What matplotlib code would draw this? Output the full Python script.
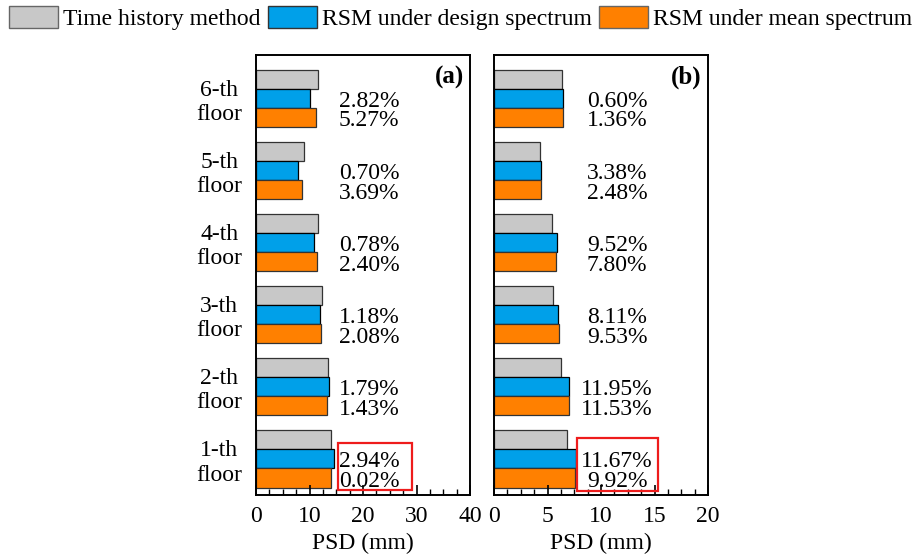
import matplotlib
matplotlib.use('Agg')
import matplotlib.pyplot as plt
from matplotlib.patches import Rectangle, Patch
from matplotlib.ticker import MultipleLocator

plt.rcParams['font.family'] = ['Liberation Serif', 'DejaVu Serif']
plt.rcParams['font.size'] = 17

# Data (bottom floor first)
floors = ['1-th\nfloor', '2-th\nfloor', '3-th\nfloor', '4-th\nfloor', '5-th\nfloor', '6-th\nfloor']

th_a = [14.1, 13.5, 12.4, 11.5, 9.0, 11.6]
design_a = [14.5, 13.55, 12.0, 10.9, 7.8, 10.1]
mean_a = [14.1, 13.3, 12.15, 11.3, 8.65, 11.15]
err_design_a = ['2.94%', '1.79%', '1.18%', '0.78%', '0.70%', '2.82%']
err_mean_a = ['0.02%', '1.43%', '2.08%', '2.40%', '3.69%', '5.27%']

th_b = [6.85, 6.26, 5.54, 5.39, 4.3, 6.38]
design_b = [7.66, 7.04, 6.0, 5.92, 4.42, 6.42]
mean_b = [7.54, 6.98, 6.1, 5.82, 4.39, 6.48]
err_design_b = ['11.67%', '11.95%', '8.11%', '9.52%', '3.38%', '0.60%']
err_mean_b = ['9.92%', '11.53%', '9.53%', '7.80%', '2.48%', '1.36%']

c_gray = '#c8c8c8'
c_blue = '#00a0e9'
c_orange = '#ff8000'
h = 0.265

fig = plt.figure(figsize=(9.21, 5.60), dpi=100)
ax_a = fig.add_axes([0.278, 0.1161, 0.2324, 0.7857])
ax_b = fig.add_axes([0.5364, 0.1161, 0.2324, 0.7857])


def draw_panel(ax, th, design, mean, err_d, err_m, xmax, major, text_x, box, tag):
    y = list(range(len(th)))
    ax.barh([v + h for v in y], th, height=h, color=c_gray, edgecolor='0.2', linewidth=0.9)
    ax.barh(y, design, height=h, color=c_blue, edgecolor='black', linewidth=0.9)
    ax.barh([v - h for v in y], mean, height=h, color=c_orange, edgecolor='0.2', linewidth=0.9)
    for i in y:
        ax.text(text_x, i - 0.04, err_d[i], ha='center', va='center')
        ax.text(text_x, i - h - 0.05, err_m[i], ha='center', va='center')
    ax.add_patch(Rectangle((box[0], box[1]), box[2], box[3], fill=False,
                           edgecolor='#ee1c1c', linewidth=1.6, zorder=5))
    ax.text(0.97, 0.975, tag, transform=ax.transAxes, ha='right', va='top',
            fontweight='bold', fontsize=18)
    ax.set_xlim(0, xmax)
    ax.set_ylim(-0.5, 5.6)
    ax.xaxis.set_major_locator(MultipleLocator(major))
    ax.xaxis.set_minor_locator(MultipleLocator(major / 4))
    ax.tick_params(axis='x', which='major', direction='in', length=7, width=1.2, pad=8)
    ax.tick_params(axis='x', which='minor', direction='in', length=4, width=1.0)
    ax.set_xlabel('PSD (mm)', labelpad=4)
    for s in ax.spines.values():
        s.set_linewidth(1.4)


draw_panel(ax_a, th_a, design_a, mean_a, err_design_a, err_mean_a, 40, 10, 21.1,
           (15.3, -0.43, 13.8, 0.655), '(a)')
draw_panel(ax_b, th_b, design_b, mean_b, err_design_b, err_mean_b, 20, 5, 11.5,
           (7.73, -0.44, 7.57, 0.725), '(b)')

ax_a.set_yticks(range(len(floors)))
ax_a.set_yticklabels(floors)
for lab in ax_a.get_yticklabels():
    lab.set_multialignment('center')
ax_a.tick_params(axis='y', length=0, pad=10)
ax_b.set_yticks([])

handles = [Patch(facecolor=c_gray, edgecolor='0.4', label='Time history method'),
           Patch(facecolor=c_blue, edgecolor='0.2', label='RSM under design spectrum'),
           Patch(facecolor=c_orange, edgecolor='0.4', label='RSM under mean spectrum')]
fig.legend(handles=handles, loc='upper center', bbox_to_anchor=(0.5, 1.015), ncol=3,
           frameon=False, handlelength=2.1, handleheight=1.1, handletextpad=0.2,
           columnspacing=0.3, borderaxespad=0.2)

fig.savefig('out.png', dpi=100)
